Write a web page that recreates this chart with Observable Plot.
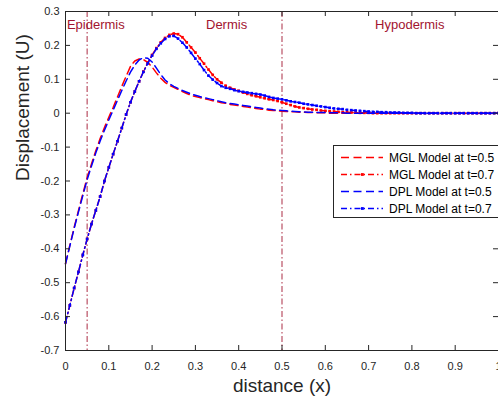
<!DOCTYPE html>
<html><head><meta charset="utf-8">
<script src="https://cdn.jsdelivr.net/npm/d3@7"></script>
<script src="https://cdn.jsdelivr.net/npm/@observablehq/plot@0.6"></script>
<style>
body{margin:0;overflow:hidden;background:#fff;}
#wrap{position:relative;width:498px;height:402px;font-family:"Liberation Sans",Arial,sans-serif;}
#legend{position:absolute;left:333px;top:145px;width:172px;height:73px;border:1px solid #262626;background:#fff;box-sizing:border-box;}
#legend svg{display:block;}
</style></head>
<body><div id="wrap"><div id="chart"></div><div id="legend"></div></div>
<script>
// distance grid (x)
const xs = [0,0.01,0.02,0.03,0.04,0.05,0.06,0.07,0.08,0.09,0.1,0.11,0.12,0.13,0.14,0.15,0.16,0.17,0.18,0.19,0.2,0.21,0.22,0.23,0.24,0.25,0.26,0.27,0.28,0.29,0.3,0.31,0.32,0.33,0.34,0.35,0.36,0.37,0.38,0.39,0.4,0.41,0.42,0.43,0.44,0.45,0.46,0.47,0.48,0.49,0.5,0.51,0.52,0.53,0.54,0.55,0.56,0.57,0.58,0.59,0.6,0.61,0.62,0.63,0.64,0.65,0.66,0.67,0.68,0.69,0.7,0.71,0.72,0.73,0.74,0.75,0.76,0.77,0.78,0.79,0.8,0.81,0.82,0.83,0.84,0.85,0.86,0.87,0.88,0.89,0.9,0.91,0.92,0.93,0.94,0.95,0.96,0.97,0.98,0.99,1];

// MGL Model at t=0.5
const mgl05 = [-0.444,-0.390,-0.337,-0.287,-0.238,-0.190,-0.150,-0.111,-0.075,-0.042,-0.012,0.017,0.048,0.079,0.109,0.138,0.154,0.160,0.158,0.150,0.136,0.119,0.103,0.091,0.082,0.076,0.070,0.064,0.058,0.053,0.049,0.046,0.043,0.040,0.037,0.034,0.031,0.029,0.026,0.024,0.022,0.020,0.018,0.016,0.014,0.012,0.011,0.009,0.008,0.007,0.006,0.005,0.004,0.004,0.003,0.003,0.002,0.002,0.001,0.001,0.001,0,0,0,0,0,0,0,0,0,0,0,0,0,0,0,0,0,0,0,0,0,0,0,0,0,0,0,0,0,0,0,0,0,0,0,0,0,0,0,0];

// MGL Model at t=0.7
const mgl07 = [-0.617,-0.567,-0.516,-0.468,-0.418,-0.371,-0.327,-0.287,-0.246,-0.200,-0.160,-0.121,-0.083,-0.044,-0.004,0.032,0.064,0.094,0.123,0.149,0.172,0.192,0.209,0.222,0.231,0.235,0.233,0.224,0.209,0.194,0.179,0.162,0.146,0.129,0.113,0.100,0.090,0.081,0.075,0.070,0.066,0.061,0.057,0.053,0.050,0.047,0.044,0.041,0.039,0.036,0.032,0.028,0.024,0.020,0.017,0.015,0.013,0.011,0.010,0.008,0.007,0.006,0.005,0.004,0.003,0.003,0.002,0.002,0.001,0.001,0.001,0,0,0,0,0,0,0,0,0,0,0,0,0,0,0,0,0,0,0,0,0,0,0,0,0,0,0,0,0,0];

// DPL Model at t=0.5
const dpl05 = [-0.444,-0.392,-0.340,-0.291,-0.243,-0.196,-0.156,-0.117,-0.082,-0.050,-0.020,0.009,0.038,0.067,0.095,0.121,0.142,0.157,0.164,0.162,0.151,0.133,0.114,0.098,0.087,0.079,0.073,0.067,0.062,0.057,0.053,0.049,0.046,0.043,0.040,0.037,0.034,0.031,0.029,0.027,0.025,0.023,0.021,0.019,0.017,0.015,0.013,0.012,0.010,0.009,0.008,0.007,0.006,0.005,0.004,0.004,0.003,0.003,0.002,0.002,0.002,0.001,0.001,0.001,0.001,0,0,0,0,0,0,0,0,0,0,0,0,0,0,0,0,0,0,0,0,0,0,0,0,0,0,0,0,0,0,0,0,0,0,0,0];

// DPL Model at t=0.7
const dpl07 = [-0.617,-0.567,-0.516,-0.468,-0.418,-0.371,-0.327,-0.287,-0.246,-0.200,-0.160,-0.121,-0.083,-0.044,-0.004,0.032,0.064,0.094,0.122,0.147,0.170,0.190,0.206,0.219,0.227,0.228,0.220,0.208,0.194,0.178,0.161,0.145,0.127,0.111,0.099,0.089,0.080,0.075,0.072,0.068,0.065,0.063,0.061,0.059,0.057,0.055,0.052,0.048,0.045,0.043,0.041,0.038,0.035,0.033,0.031,0.028,0.026,0.024,0.022,0.020,0.018,0.016,0.014,0.013,0.012,0.010,0.009,0.008,0.007,0.006,0.005,0.004,0.004,0.003,0.003,0.002,0.002,0.002,0.001,0.001,0.001,0,0,0,0,0,0,0,0,0,0,0,0,0,0,0,0,0,0,0,0];

const xTicks = [0,0.1,0.2,0.3,0.4,0.5,0.6,0.7,0.8,0.9,1];
const yTicks = [-0.7,-0.6,-0.5,-0.4,-0.3,-0.2,-0.1,0,0.1,0.2,0.3];
const layerBounds = [0.05, 0.5];
const regionLabels = ["Epidermis","Dermis","Hypodermis"];
const regionLabelX = [0.07, 0.372, 0.795];
const regionLabelY = [0.262, 0.262, 0.262];
const seriesNames = ["MGL Model at t=0.5","MGL Model at t=0.7","DPL Model at t=0.5","DPL Model at t=0.7"];
const xLabel = "distance (x)";
const yLabel = "Displacement (U)";

// styles
const seriesValues = [mgl05, mgl07, dpl05, dpl07];
const seriesColors = ["#ff0000","#ff0000","#0000ff","#0000ff"];
const seriesDash = ["8,4.5","6,3,1.5,3","8,4.5","6,3,1.5,3"];
const seriesMarker = [false, true, false, true];
const regionColor = "#a2142f";
const axisColor = "#262626";

const fmt = d => d === 0 ? "0" : String(Math.round(d * 10) / 10);

const tables = seriesValues.map(vals => xs.map((x, i) => ({x, y: vals[i]})));
const regions = regionLabels.map((t, i) => ({t, x: regionLabelX[i], y: regionLabelY[i]}));

const W = 498, H = 402, mL = 65, mR = 0, mT = 11, mB = 52;
const fw = W - mL - mR, fh = H - mT - mB, tk = 5;

const marks = [
  Plot.ruleX(layerBounds, {x: d => d, stroke: regionColor, strokeOpacity: 0.75, strokeWidth: 1.2, strokeDasharray: "6,2.5,1.5,2.5"}),
  Plot.text(regions, {x: "x", y: "y", text: "t", fill: regionColor, fontSize: 13, textAnchor: "middle", lineAnchor: "middle"})
];
tables.forEach((tab, i) => {
  marks.push(Plot.line(tab, {x: "x", y: "y", stroke: seriesColors[i], strokeWidth: 1.5, strokeDasharray: seriesDash[i]}));
  if (seriesMarker[i]) marks.push(Plot.dot(tab, {x: "x", y: "y", fill: seriesColors[i], r: 1.5, symbol: "square"}));
});
marks.push(
  Plot.frame({stroke: axisColor, strokeWidth: 1}),
  Plot.tickX(xTicks, {x: d => d, stroke: axisColor, insetTop: fh - tk}),
  Plot.tickX(xTicks, {x: d => d, stroke: axisColor, insetBottom: fh - tk}),
  Plot.tickY(yTicks, {y: d => d, stroke: axisColor, insetRight: fw - tk}),
  Plot.tickY(yTicks, {y: d => d, stroke: axisColor, insetLeft: fw - tk}),
  Plot.axisX({ticks: xTicks, tickSize: 0, tickPadding: 12, tickFormat: fmt, label: null, fontSize: 11, fill: axisColor}),
  Plot.axisY({ticks: yTicks, tickSize: 0, tickPadding: 6, tickFormat: fmt, label: null, fontSize: 11, fill: axisColor}),
  Plot.text([xLabel], {text: d => d, frameAnchor: "bottom", dy: 35, fontSize: 19, fill: axisColor, lineAnchor: "middle"}),
  Plot.text([yLabel], {text: d => d, frameAnchor: "left", dx: -43, rotate: -90, fontSize: 19, fill: axisColor, lineAnchor: "middle"})
);

const chart = Plot.plot({
  width: W, height: H,
  marginLeft: mL, marginRight: mR, marginTop: mT, marginBottom: mB,
  x: {domain: [0, 1]},
  y: {domain: [-0.7, 0.3]},
  style: {fontFamily: '"Liberation Sans", Arial, sans-serif', background: "#fff"},
  marks
});
document.getElementById("chart").appendChild(chart);

// legend
const lg = d3.select("#legend").append("svg").attr("width", 170).attr("height", 71)
  .style("font-family", '"Liberation Sans", Arial, sans-serif');
seriesNames.forEach((name, i) => {
  const y = 11.5 + i * 17;
  lg.append("line").attr("x1", 7).attr("x2", 49).attr("y1", y).attr("y2", y)
    .attr("stroke", seriesColors[i]).attr("stroke-width", 1.5).attr("stroke-dasharray", seriesDash[i]);
  if (seriesMarker[i]) lg.append("rect").attr("x", 27).attr("y", y - 1.4).attr("width", 2.8).attr("height", 2.8).attr("fill", seriesColors[i]);
  lg.append("text").attr("x", 55).attr("y", y).attr("dy", "0.35em").attr("font-size", 12).attr("fill", "#000").text(name);
});
</script>
</body></html>
